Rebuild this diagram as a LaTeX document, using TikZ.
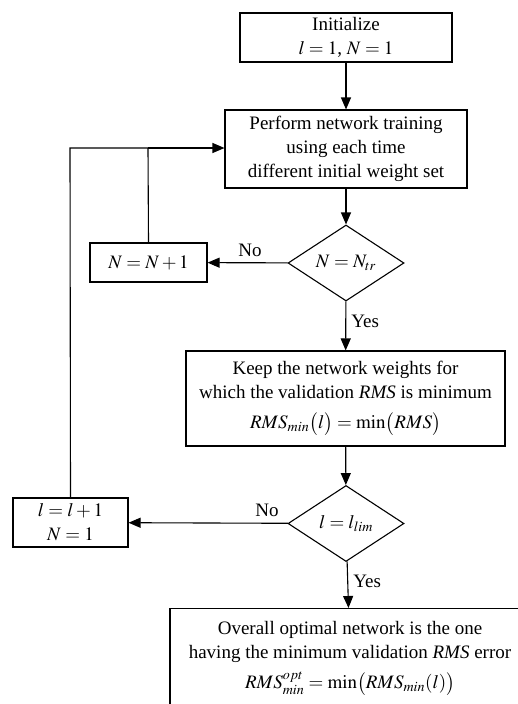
\documentclass[tikz,border=0pt]{standalone}
\usepackage{mathptmx}
\usepackage{fontspec}
\setmainfont{Liberation Serif}
\usetikzlibrary{arrows.meta,shapes.geometric}
\tikzset{
  box/.style={draw, line width=1.1pt, rectangle, align=center, inner sep=0pt, font=\fontsize{19}{24}\selectfont},
  dia/.style={draw, line width=1.1pt, diamond, aspect=1.53, inner sep=0pt, minimum width=116pt, minimum height=76pt, font=\fontsize{19}{23}\selectfont},
  lbl/.style={font=\fontsize{19}{23}\selectfont, inner sep=0pt},
  conn/.style={line width=1.1pt},
  arr/.style={line width=1.1pt, -{Triangle[length=12pt,width=10pt]}}
}
\begin{document}
\begin{tikzpicture}[x=1pt,y=-1pt]
\clip (0,0) rectangle (518,704);
\fill[white] (0,0) rectangle (518,704);
\node[box, minimum width=212pt, minimum height=49pt] (init) at (346,37.5) {Initialize\\$l=1$, $N=1$};
\node[box, minimum width=242pt, minimum height=78pt] (perf) at (346,149) {Perform network training\\using each time\\different initial weight set};
\node[dia] (d1) at (346,263) {$N=N_{tr}$};
\node[box, minimum width=117pt, minimum height=39pt] (inc1) at (148.5,262.5) {$N=N+1$};
\node[box, minimum width=319pt, minimum height=95pt] (keep) at (345.5,398.5) {Keep the network weights for\\which the validation \textit{RMS} is minimum\\[6pt]$RMS_{min}\bigl(l\bigr)=\min\bigl(RMS\bigr)$};
\node[dia] (d2) at (346,523.5) {$l=l_{lim}$};
\node[box, minimum width=115pt, minimum height=49pt] (inc2) at (70.5,522.5) {$l=l+1$\\$N=1$};
\node[box, minimum width=360pt, minimum height=100pt, anchor=north] (final) at (350,608) {Overall optimal network is the one\\having the minimum validation \textit{RMS} error\\[6pt]$RMS_{min}^{opt}=\min\bigl(RMS_{min}(l)\bigr)$};
\coordinate (j1) at (148,148);
\coordinate (j2) at (70,148);
\draw[arr] (init) -- (perf);
\draw[arr] (perf) -- (d1);
\draw[arr] (d1) -- node[lbl, above=6pt, pos=0.47] {No} (inc1);
\draw[conn] (inc1.north) -- (j1);
\draw[conn] (inc2.north) -- (j2) -- (j1);
\draw[arr] (j1) -- (perf.west |- j1);
\draw[arr] (d1) -- node[lbl, right=5pt, pos=0.4] {Yes} (keep);
\draw[arr] (keep) -- (d2);
\draw[arr] (d2) -- node[lbl, above=6pt, pos=0.13] {No} (inc2);
\draw[arr] (d2) -- node[lbl, right=5pt, pos=0.42] {Yes} (final);
\end{tikzpicture}
\end{document}
